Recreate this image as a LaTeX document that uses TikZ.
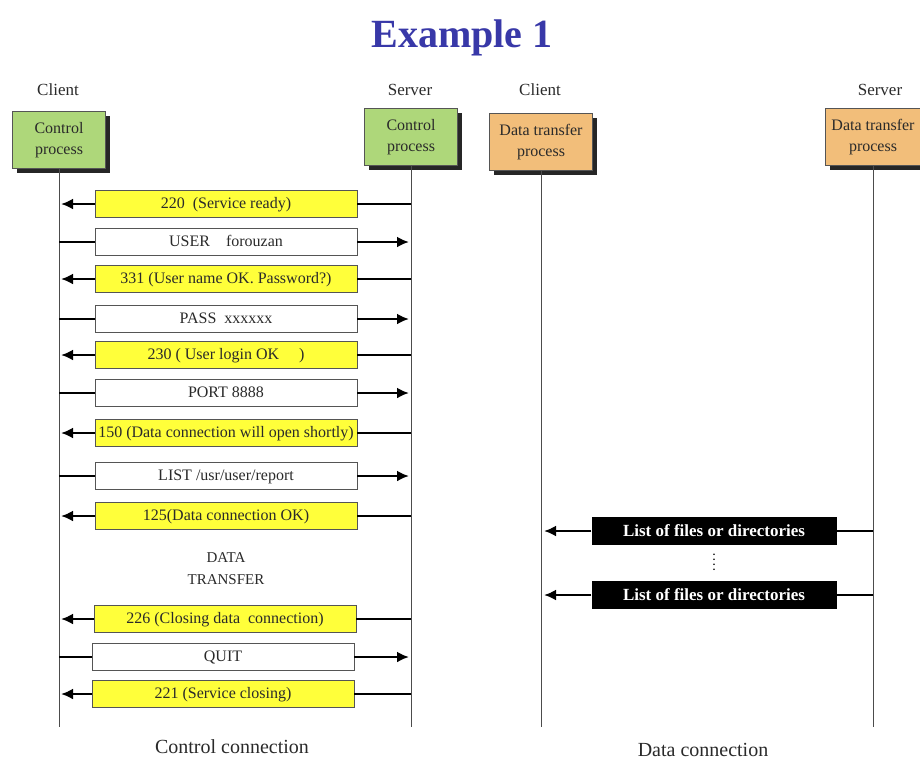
\documentclass[tikz,border=0pt]{standalone}
\usepackage{fontspec}
\setmainfont{Liberation Serif}
\usepackage{tikz}
\usetikzlibrary{arrows.meta,shadows}
\definecolor{titelblau}{HTML}{3838A8}
\definecolor{gruen}{HTML}{AED77A}
\definecolor{orange}{HTML}{F2BE7A}
\definecolor{gelb}{HTML}{FFFF3A}
\definecolor{grau}{HTML}{2A2A2A}
\definecolor{rand}{HTML}{555555}
\tikzset{
  proc/.style={draw=rand,line width=0.8pt,minimum width=93pt,minimum height=57pt,inner sep=0pt,align=center,text=grau,font=\fontsize{16}{21}\selectfont,drop shadow={shadow xshift=4pt,shadow yshift=-4pt,fill=black!85,opacity=1}},
  ctrl/.style={proc,fill=gruen},
  dtp/.style={proc,fill=orange},
  rolle/.style={text=grau,font=\fontsize{17}{17}\selectfont},
  msg/.style={draw=rand,line width=0.9pt,minimum width=262pt,minimum height=27pt,inner sep=0pt,text height=11pt,text depth=1.5pt,text=grau,font=\fontsize{16}{16}\selectfont},
  antw/.style={msg,fill=gelb},
  befehl/.style={msg,fill=white},
  datei/.style={fill=black,text=white,minimum width=245pt,minimum height=28pt,inner sep=0pt,text height=12pt,text depth=2pt,font=\bfseries\fontsize{17}{17}\selectfont},
  pfeil/.style={-{Latex[length=12pt,width=11pt]},line width=2.8pt},
  strich/.style={line width=2.8pt},
  life/.style={black!70,line width=1pt},
  punkte/.style={line width=1.8pt,dash pattern=on 0pt off 5pt,line cap=round,shorten <=9pt,shorten >=8pt},
  fuss/.style={text=grau,font=\fontsize{20}{20}\selectfont},
}
\begin{document}
\begin{tikzpicture}[x=1pt,y=-1pt]
  \useasboundingbox[fill=white] (0,0) rectangle (920,761);
  \node[text=titelblau,font=\bfseries\fontsize{40}{40}\selectfont] (titel) at (462,38) {Example 1};
  % processes
  \node[rolle] (rc1) at (58,90) {Client};
  \node[rolle] (rs1) at (410,90) {Server};
  \node[rolle] (rc2) at (540,90) {Client};
  \node[rolle] (rs2) at (880,90) {Server};
  \node[ctrl] (ccli) at (59,140) {Control\\process};
  \node[ctrl] (csrv) at (411,137) {Control\\process};
  \node[dtp,minimum width=103pt] (dcli) at (541,142) {Data transfer\\process};
  \node[dtp,minimum width=95pt] (dsrv) at (873,137) {Data transfer\\process};
  \coordinate (unten) at (0,727);
  \draw[life] (ccli.south) -- (ccli.south |- unten);
  \draw[life] (csrv.south) -- (csrv.south |- unten);
  \draw[life] (dcli.south) -- (dcli.south |- unten);
  \draw[life] (dsrv.south) -- (dsrv.south |- unten);
  % control connection
  \node[antw] (m1) at (226,204) {220\ \ (Service ready)};
  \node[befehl] (m2) at (226,242) {USER\quad forouzan};
  \node[antw] (m3) at (226,279) {331 (User name OK. Password?)};
  \node[befehl] (m4) at (226,319) {PASS\ \ xxxxxx};
  \node[antw] (m5) at (226,355) {230 ( User login OK\quad\ )};
  \node[befehl] (m6) at (226,393) {PORT 8888};
  \node[antw] (m7) at (226,433) {150 (Data connection will open shortly)};
  \node[befehl] (m8) at (226,476) {LIST /usr/user/report};
  \node[antw] (m9) at (226,516) {125(Data connection OK)};
  \node[text=grau,font=\fontsize{15}{22}\selectfont,align=center] (dt) at (226,569) {DATA\\TRANSFER};
  \node[antw] (m10) at (225,619) {226 (Closing data\ \ connection)};
  \node[befehl] (m11) at (223,657) {QUIT};
  \node[antw] (m12) at (223,694) {221 (Service closing)};
  \foreach \m in {m1,m3,m5,m7,m9,m10,m12}{
    \draw[strich] (\m.east -| csrv) -- (\m.east);
    \draw[pfeil] (\m.west) -- ([xshift=2pt]\m.west -| ccli);
  }
  \foreach \m in {m2,m4,m6,m8,m11}{
    \draw[strich] (\m.west -| ccli) -- (\m.west);
    \draw[pfeil] (\m.east) -- ([xshift=-2pt]\m.east -| csrv);
  }
  % data connection
  \node[datei] (d1) at (714,531) {List of files or directories};
  \node[datei] (d2) at (714,595) {List of files or directories};
  \draw[punkte] (d1.south) -- (d2.north);
  \foreach \d in {d1,d2}{
    \draw[strich] (\d.east -| dsrv) -- (\d.east);
    \draw[pfeil] (\d.west) -- ([xshift=3pt]\d.west -| dcli);
  }
  \node[fuss] (cc) at (232,747) {Control connection};
  \node[fuss] (dc) at (703,750) {Data connection};
\end{tikzpicture}
\end{document}
